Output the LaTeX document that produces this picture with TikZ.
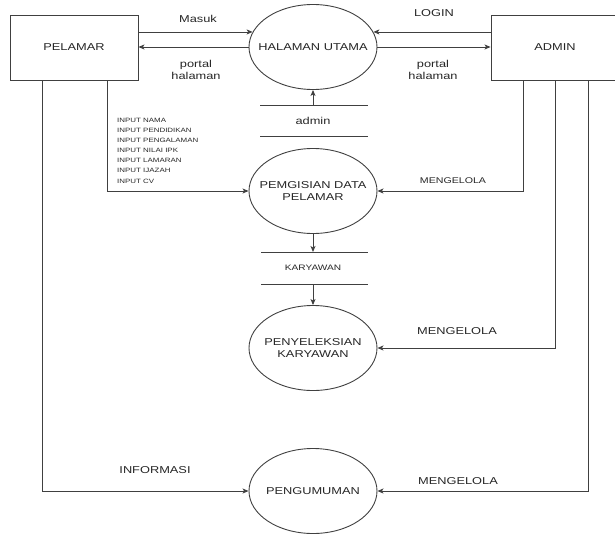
\documentclass[tikz,border=0pt]{standalone}
\usepackage{fontspec}
\setmainfont{Liberation Sans}[FakeStretch=1.28]
\usetikzlibrary{shapes.geometric,arrows.meta}
\begin{document}
\begin{tikzpicture}[x=1pt,y=-1pt,
  every node/.style={text=black!85, font=\fontsize{10}{11.5}\selectfont},
  line/.style={draw=black!75, line width=0.9pt},
  arr/.style={line, -{Stealth[length=6pt,width=5pt,inset=1.5pt]}},
  entity/.style={draw=black!75, line width=0.9pt, rectangle, minimum width=128pt, minimum height=65pt, inner sep=0pt},
  proc/.style={draw=black!75, line width=0.9pt, ellipse, minimum width=128pt, minimum height=85pt, inner sep=0pt,
    label={[inner sep=0pt, align=center, text=black!85, font=\fontsize{10}{11.5}\selectfont]center:#1}},
  lbl/.style={inner sep=0pt, align=center}]
\useasboundingbox (0,0) rectangle (615,535);
\begin{scope}
\clip (0,0) rectangle (615,535);

% external entities
\node[entity] (pel) at (74,47.5) {PELAMAR};
\node[entity] (adm) at (555,47.5) {ADMIN};

% processes (fixed-size ellipses, text set as a centred label)
\node[proc={HALAMAN UTAMA}] (hu) at (313,47) {};
\node[proc={PEMGISIAN DATA\\PELAMAR}] (pd) at (313,191) {};
\node[proc={PENYELEKSIAN\\KARYAWAN}] (pk) at (313,348) {};
\node[proc={PENGUMUMAN}] (pg) at (313,491) {};

% data stores
\coordinate (a1) at (260,105); \coordinate (a2) at (368,105);
\coordinate (a3) at (260,136); \coordinate (a4) at (368,136);
\coordinate (atop) at (313,105);
\draw[line] (a1) -- (a2) (a3) -- (a4);
\node[lbl] (admtxt) at (313,121) {admin};

\coordinate (k1) at (261,252); \coordinate (k2) at (368,252);
\coordinate (k3) at (261,284); \coordinate (k4) at (368,284);
\coordinate (ktop) at (313,252); \coordinate (kbot) at (313,284);
\draw[line] (k1) -- (k2) (k3) -- (k4);
\node[lbl, font=\fontsize{7.9}{9}\selectfont] (kartxt) at (313,268) {KARYAWAN};

% flows between entities and the main page
\draw[arr] (pel.east |- hu.166) -- (hu.166);
\draw[arr] (hu.west) -- (pel.east |- hu.west);
\draw[arr] (adm.west |- hu.14) -- (hu.14);
\draw[arr] (hu.east) -- (adm.west |- hu.east);
\node[lbl] (lmasuk) at (198,19) {Masuk};
\node[lbl] (lport1) at (196,70) {portal\\halaman};
\node[lbl] (llogin) at (434,13) {LOGIN};
\node[lbl] (lport2) at (433,70) {portal\\halaman};

% flows through the data stores
\draw[arr] (atop) -- (hu.south);
\draw[arr] (pd.south) -- (ktop);
\draw[arr] (kbot) -- (pk.north);

% flows from PELAMAR
\coordinate (p1) at (107,80);
\coordinate (p2) at (42,80);
\draw[arr] (p1) |- (pd.west);
\draw[arr] (p2) |- (pg.west);
\node[lbl, anchor=north west, align=left, font=\fontsize{6.2}{10.1}\selectfont] (inputs) at (117,118)
  {INPUT NAMA\\INPUT PENDIDIKAN\\INPUT PENGALAMAN\\INPUT NILAI IPK\\INPUT LAMARAN\\INPUT IJAZAH\\INPUT CV};
\node[lbl] (linfo) at (155,470) {INFORMASI};

% flows from ADMIN
\coordinate (d1) at (523,80);
\coordinate (d2) at (555,80);
\coordinate (d3) at (588,80);
\draw[arr] (d1) |- (pd.east);
\draw[arr] (d2) |- (pk.east);
\draw[arr] (d3) |- (pg.east);
\node[lbl, font=\fontsize{8.3}{9.5}\selectfont] (lm1) at (453,181) {MENGELOLA};
\node[lbl] (lm2) at (457,331) {MENGELOLA};
\node[lbl] (lm3) at (458,481) {MENGELOLA};
\end{scope}
\end{tikzpicture}
\end{document}
